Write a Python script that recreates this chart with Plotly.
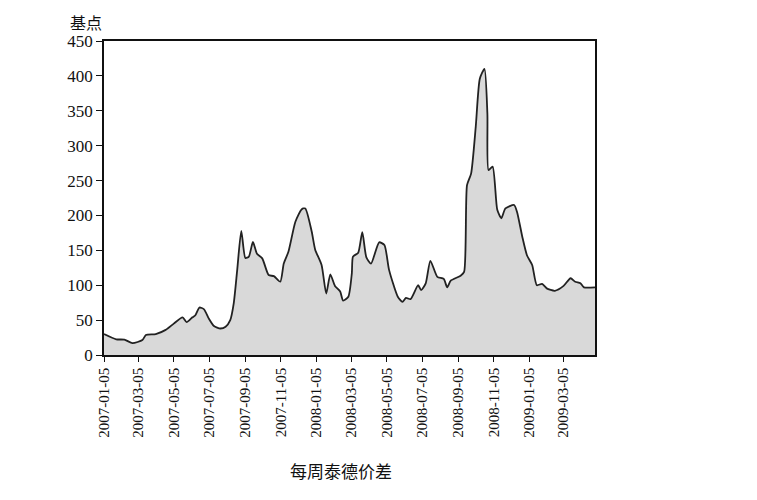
import plotly.graph_objects as go

dates = [
    "2007-01-05", "2007-01-26", "2007-02-09", "2007-02-23", "2007-03-12", "2007-03-18",
    "2007-04-04", "2007-04-21", "2007-05-05", "2007-05-20", "2007-05-27", "2007-06-06",
    "2007-06-11", "2007-06-18", "2007-06-26", "2007-07-04", "2007-07-13", "2007-07-24",
    "2007-08-02", "2007-08-10", "2007-08-16", "2007-08-22", "2007-08-29", "2007-09-05",
    "2007-09-11", "2007-09-18", "2007-09-25", "2007-10-04", "2007-10-15", "2007-10-24",
    "2007-11-04", "2007-11-10", "2007-11-18", "2007-11-30", "2007-12-11", "2007-12-17",
    "2007-12-28", "2008-01-03", "2008-01-14", "2008-01-22", "2008-01-29", "2008-02-06",
    "2008-02-15", "2008-02-20", "2008-02-29", "2008-03-06", "2008-03-08", "2008-03-17",
    "2008-03-24", "2008-03-31", "2008-04-08", "2008-04-22", "2008-05-01", "2008-05-09",
    "2008-05-24", "2008-06-01", "2008-06-07", "2008-06-15", "2008-06-28", "2008-07-03",
    "2008-07-11", "2008-07-19", "2008-07-31", "2008-08-11", "2008-08-17", "2008-08-23",
    "2008-09-09", "2008-09-15", "2008-09-20", "2008-09-27", "2008-10-05", "2008-10-12",
    "2008-10-20", "2008-10-25", "2008-10-27", "2008-11-03", "2008-11-11", "2008-11-18",
    "2008-11-25", "2008-12-10", "2008-12-15", "2008-12-24", "2009-01-01", "2009-01-10",
    "2009-01-18", "2009-01-27", "2009-02-04", "2009-02-18", "2009-03-05", "2009-03-17",
    "2009-03-25", "2009-04-03", "2009-04-09", "2009-04-28",
]
spread = [
    30, 22.5, 22, 17, 21.5, 28.6,
    30, 36, 45, 54, 47, 54,
    57, 68, 65.5, 52.5, 41.5, 38,
    40.5, 50, 74, 122, 178, 139,
    141, 162, 145, 138.5, 114.6, 113,
    105, 131, 148, 191, 209, 210,
    177, 151, 129, 88, 115.6, 99,
    91, 78, 83.5, 117, 141, 146.6,
    176, 140, 131, 161.5, 157.6, 122,
    83.5, 76, 82, 80, 100, 93,
    102.7, 135, 112, 109, 97, 106.5,
    113.6, 119, 243.5, 260, 327, 396,
    410, 346, 265, 270, 208, 196,
    210, 215, 205, 169.5, 143, 129,
    100, 102, 95.5, 92, 99, 110,
    105, 102.7, 97, 97,
]
tick_dates = [
    "2007-01-05", "2007-03-05", "2007-05-05", "2007-07-05", "2007-09-05", "2007-11-05",
    "2008-01-05", "2008-03-05", "2008-05-05", "2008-07-05", "2008-09-05", "2008-11-05",
    "2009-01-05", "2009-03-05",
]
y_ticks = [0, 50, 100, 150, 200, 250, 300, 350, 400, 450]

serif = "Liberation Serif"

fig = go.Figure()
fig.add_trace(go.Scatter(
    x=dates, y=spread, mode="lines", fill="tozeroy",
    fillcolor="#d9d9d9",
    line=dict(color="#222222", width=1.8, shape="spline", smoothing=0.6),
    showlegend=False, hoverinfo="x+y",
))

fig.update_layout(
    width=757, height=500,
    margin=dict(l=96, r=170, t=33, b=153),
    plot_bgcolor="white", paper_bgcolor="white",
    font=dict(family=serif, color="#111111"),
    xaxis=dict(
        type="date", range=["2007-01-05", "2009-04-28"],
        tickvals=tick_dates, ticktext=tick_dates,
        tickangle=-90, tickfont=dict(size=15, family=serif),
        ticks="outside", ticklen=5, tickcolor="#111111",
        showline=True, linecolor="#111111", linewidth=1.5, mirror=True,
        showgrid=False, zeroline=False,
    ),
    yaxis=dict(
        range=[0, 450], tickvals=y_ticks,
        tickfont=dict(size=17, family=serif),
        ticks="outside", ticklen=6, tickcolor="#111111",
        showline=True, linecolor="#111111", linewidth=1.5, mirror=True,
        showgrid=False, zeroline=False,
    ),
    annotations=[
        dict(text="基点", xref="paper", yref="paper", x=-0.037, y=1.062,
             xanchor="center", yanchor="middle", showarrow=False,
             font=dict(size=16, family="Noto Sans CJK SC", color="#111111")),
        dict(text="每周泰德价差", xref="paper", yref="paper", x=0.483, y=-0.369,
             xanchor="center", yanchor="middle", showarrow=False,
             font=dict(size=17, family="Noto Sans CJK SC", color="#111111")),
    ],
)

fig.write_html("out.html")
